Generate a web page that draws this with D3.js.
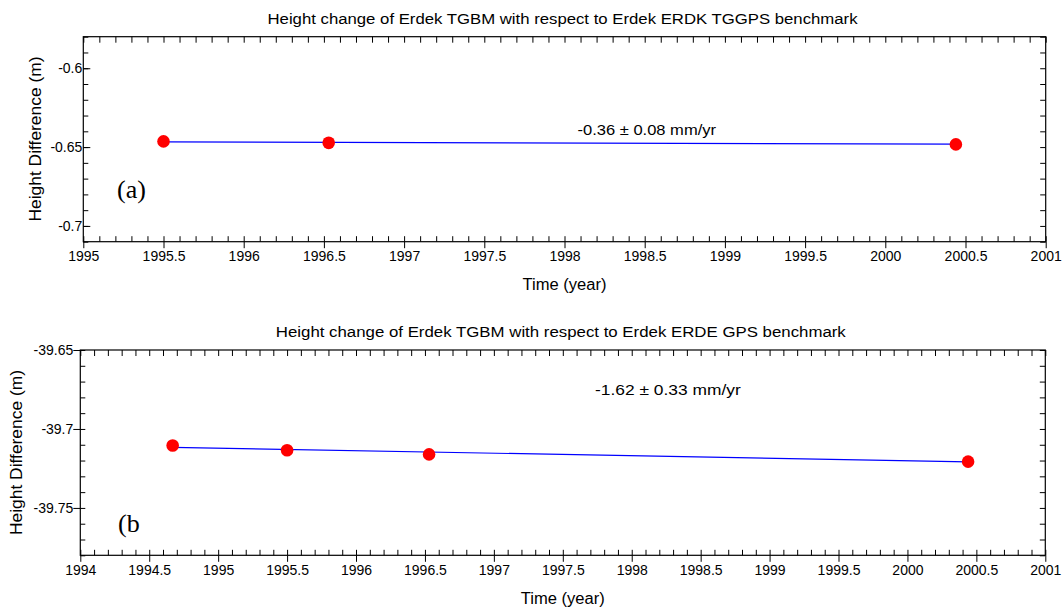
<!DOCTYPE html>
<html>
<head>
<meta charset="utf-8">
<script src="https://cdn.jsdelivr.net/npm/d3@7"></script>
<style>
  html, body { margin: 0; padding: 0; background: #fff; }
  svg { display: block; }
  text { font-family: "Liberation Sans", Arial, sans-serif; fill: #000; }
</style>
</head>
<body>
<svg id="chart" width="1063" height="610"></svg>
<script>
// ---------- DATA ----------
// Panel (a)
const titleA = "Height change of Erdek TGBM with respect to Erdek ERDK TGGPS benchmark";
const yearsA = [1995.50, 1996.53, 2000.44];
const heightsA = [-0.6464, -0.6473, -0.6483];
const fitYearsA = [1995.50, 2000.44];
const fitHeightsA = [-0.6467, -0.6481];
const rateA = "-0.36 ± 0.08 mm/yr";
const xDomainA = [1995, 2001];
const yDomainA = [-0.71, -0.58];
const xTickLabelsA = [1995, 1995.5, 1996, 1996.5, 1997, 1997.5, 1998, 1998.5, 1999, 1999.5, 2000, 2000.5, 2001];
const yTickLabelsA = [-0.6, -0.65, -0.7];

// Panel (b)
const titleB = "Height change of Erdek TGBM with respect to Erdek ERDE GPS benchmark";
const yearsB = [1994.67, 1995.50, 1996.53, 2000.44];
const heightsB = [-39.7105, -39.7135, -39.7161, -39.7207];
const fitYearsB = [1994.67, 2000.44];
const fitHeightsB = [-39.7116, -39.7209];
const rateB = "-1.62 ± 0.33 mm/yr";
const xDomainB = [1994, 2001];
const yDomainB = [-39.78, -39.65];
const xTickLabelsB = [1994, 1994.5, 1995, 1995.5, 1996, 1996.5, 1997, 1997.5, 1998, 1998.5, 1999, 1999.5, 2000, 2000.5, 2001];
const yTickLabelsB = [-39.65, -39.7, -39.75];

const xLabel = "Time (year)";
const yLabel = "Height Difference (m)";

// ---------- DRAW ----------
const svg = d3.select("#chart");

function minorTicks(domain, step) {
  const n = Math.round((domain[1] - domain[0]) / step);
  return d3.range(n + 1).map(i => +(domain[0] + i * step).toFixed(4));
}

function drawPanel(p) {
  const x = d3.scaleLinear().domain(p.xDomain).range([p.left, p.right]);
  const y = d3.scaleLinear().domain(p.yDomain).range([p.bottom, p.top]);
  const g = svg.append("g");

  const xMinor = minorTicks(p.xDomain, 0.1);
  const yMinor = minorTicks(p.yDomain, 0.01);

  function styleAxis(sel) {
    sel.attr("font-size", null).attr("font-family", null);
    sel.select(".domain").remove();
    sel.selectAll(".tick line").attr("stroke", "#000").attr("stroke-width", 1);
    sel.selectAll(".tick text").attr("fill", "#000")
      .style("font-size", "14px")
      .style("font-family", "'Liberation Sans', Arial, sans-serif");
    return sel;
  }

  // bottom: minor ticks inward
  styleAxis(g.append("g").attr("transform", `translate(0,${p.bottom})`)
    .call(d3.axisTop(x).tickValues(xMinor).tickSize(5.5).tickFormat("")));
  // bottom: major ticks outward with labels
  styleAxis(g.append("g").attr("transform", `translate(0,${p.bottom})`)
    .call(d3.axisBottom(x).tickValues(p.xTicks).tickSize(6.5).tickPadding(3)
      .tickFormat(d => String(d))));

  // top ticks inward
  styleAxis(g.append("g").attr("transform", `translate(0,${p.top})`)
    .call(d3.axisBottom(x).tickValues(xMinor).tickSize(6).tickFormat("")));
  // right ticks inward
  styleAxis(g.append("g").attr("transform", `translate(${p.right},0)`)
    .call(d3.axisLeft(y).tickValues(yMinor).tickSize(5.5).tickFormat("")));
  // left minor ticks inward
  styleAxis(g.append("g").attr("transform", `translate(${p.left},0)`)
    .call(d3.axisRight(y).tickValues(yMinor).tickSize(5).tickFormat("")));
  // left major ticks
  if (p.yMajorInward) {
    const yl = styleAxis(g.append("g").attr("transform", `translate(${p.left},0)`)
      .call(d3.axisRight(y).tickValues(p.yTicks).tickSize(7).tickFormat(d => String(d))));
    yl.selectAll(".tick text").attr("x", -1).attr("text-anchor", "end");
  } else {
    styleAxis(g.append("g").attr("transform", `translate(${p.left},0)`)
      .call(d3.axisLeft(y).tickValues(p.yTicks).tickSize(7).tickPadding(0).tickFormat(d => String(d))));
  }

  // frame
  g.append("rect").attr("x", p.left).attr("y", p.top)
    .attr("width", p.right - p.left).attr("height", p.bottom - p.top)
    .attr("fill", "none").attr("stroke", "#000").attr("stroke-width", 1.2);

  // fit line
  const line = d3.line().x(d => x(d[0])).y(d => y(d[1]));
  g.append("path").datum(d3.zip(p.fitYears, p.fitHeights))
    .attr("d", line).attr("fill", "none").attr("stroke", "#0000ff").attr("stroke-width", 1.2);

  // points
  g.selectAll("circle.pt").data(d3.zip(p.years, p.heights)).join("circle")
    .attr("class", "pt")
    .attr("cx", d => x(d[0])).attr("cy", d => y(d[1])).attr("r", 6.3)
    .attr("fill", "#ff0000");

  // title
  g.append("text").attr("x", (p.left + p.right) / 2 - 2).attr("y", p.titleY)
    .attr("text-anchor", "middle").style("font-size", "15.5px")
    .attr("textLength", p.titleLen).attr("lengthAdjust", "spacingAndGlyphs")
    .text(p.title);

  // x label
  g.append("text").attr("x", (p.left + p.right) / 2).attr("y", p.xLabelY)
    .attr("text-anchor", "middle").style("font-size", "16px")
    .attr("textLength", 84).attr("lengthAdjust", "spacingAndGlyphs")
    .text(xLabel);

  // y label
  g.append("text").attr("transform", `translate(${p.yLabelX},${p.yLabelCY}) rotate(-90)`)
    .attr("text-anchor", "middle").style("font-size", "16px")
    .attr("textLength", 165).attr("lengthAdjust", "spacingAndGlyphs")
    .text(yLabel);

  // rate annotation
  g.append("text").attr("x", p.rateX).attr("y", p.rateY)
    .style("font-size", "15px")
    .attr("textLength", p.rateLen).attr("lengthAdjust", "spacingAndGlyphs")
    .text(p.rate);

  // panel letter
  g.append("text").attr("x", p.letterX).attr("y", p.letterY)
    .style("font-family", "'Liberation Serif', 'Times New Roman', serif")
    .style("font-size", "26px").text(p.letter);
}

drawPanel({
  left: 83.3, right: 1045.7, top: 36.7, bottom: 241.7,
  xDomain: xDomainA, yDomain: yDomainA, xTicks: xTickLabelsA, yTicks: yTickLabelsA,
  yMajorInward: true,
  years: yearsA, heights: heightsA, fitYears: fitYearsA, fitHeights: fitHeightsA,
  title: titleA, titleY: 24, titleLen: 590,
  xLabelY: 290, yLabelX: 41, yLabelCY: 139,
  rate: rateA, rateX: 577.5, rateY: 135, rateLen: 138.5,
  letter: "(a)", letterX: 117, letterY: 198
});

drawPanel({
  left: 80.3, right: 1045.3, top: 350, bottom: 555.3,
  xDomain: xDomainB, yDomain: yDomainB, xTicks: xTickLabelsB, yTicks: yTickLabelsB,
  yMajorInward: false,
  years: yearsB, heights: heightsB, fitYears: fitYearsB, fitHeights: fitHeightsB,
  title: titleB, titleY: 337, titleLen: 570,
  xLabelY: 604, yLabelX: 22, yLabelCY: 452.5,
  rate: rateB, rateX: 595, rateY: 395, rateLen: 145.7,
  letter: "(b", letterX: 118, letterY: 532
});
</script>
</body>
</html>
